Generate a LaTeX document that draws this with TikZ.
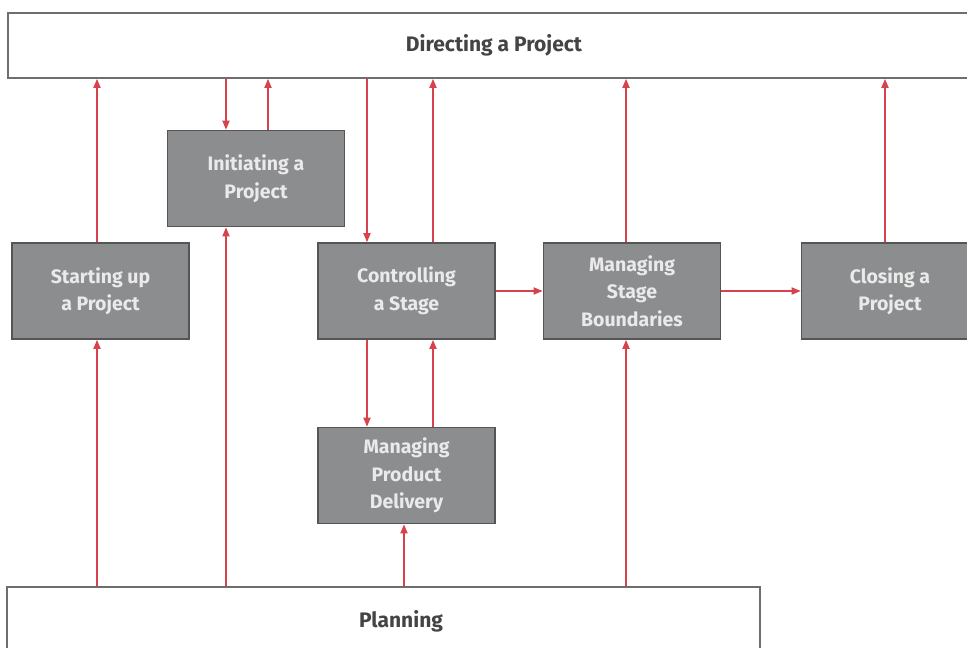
\documentclass[tikz,border=0pt]{standalone}
\usepackage{fontspec}
\setmainfont{Fira Sans}
\usetikzlibrary{arrows.meta}
\definecolor{boxgray}{HTML}{8C8D8F}
\definecolor{boxedge}{HTML}{555555}
\definecolor{redline}{HTML}{D6434D}
\definecolor{txtlight}{HTML}{EAEAEA}
\definecolor{txtdark}{HTML}{444444}
\tikzset{
  proc/.style={draw=boxedge, line width=1.6pt, fill=boxgray, text=txtlight,
    font=\bfseries\fontsize{19.5}{27.5}\selectfont, align=center,
    minimum width=177pt, minimum height=96pt, inner sep=0pt},
  wbox/.style={draw=boxedge!85, line width=1.6pt, fill=white, inner sep=0pt},
  wtext/.style={text=txtdark, font=\bfseries\fontsize{21}{24}\selectfont, inner sep=0pt},
  arr/.style={draw=redline, line width=1.7pt, -{Triangle[length=9pt,width=7pt]}},
}
\begin{document}
\begin{tikzpicture}[x=1pt,y=-1pt]
\useasboundingbox (0,0) rectangle (967,648);
% column coordinates
\coordinate (x97) at (97,0);
\coordinate (x226) at (226,0);
\coordinate (x268) at (268,0);
\coordinate (x367) at (367,0);
\coordinate (x404) at (404,0);
\coordinate (x433) at (433,0);
\coordinate (x626) at (626,0);
\coordinate (x885) at (885,0);
% boxes
\node (dir) [wbox, minimum width=974pt, minimum height=65pt] at (495,45.5) {};
\node (dirtext) [wtext] at (494,45) {Directing a Project};
\node (plan) [wbox, minimum width=753pt, minimum height=80pt] at (383.5,627) {};
\node (plantext) [wtext] at (401,621) {Planning};
\node (init) [proc] at (256,178.5) {Initiating a\\Project};
\node (start) [proc] at (100.5,291) {Starting up\\a Project};
\node (ctrl) [proc] at (406.5,291) {Controlling\\a Stage};
\node (msb) [proc] at (632,291) {Managing\\Stage\\Boundaries};
\node (close) [proc] at (890,291) {Closing a\\Project};
\node (mpd) [proc] at (406.5,475.5) {Managing\\Product\\Delivery};
% connectors
\draw[arr] (start.north -| x97) -- (dir.south -| x97);
\draw[arr] (plan.north -| x97) -- (start.south -| x97);
\draw[arr] (dir.south -| x226) -- (init.north -| x226);
\draw[arr] (init.north -| x268) -- (dir.south -| x268);
\draw[arr] (plan.north -| x226) -- (init.south -| x226);
\draw[arr] (dir.south -| x367) -- (ctrl.north -| x367);
\draw[arr] (ctrl.north -| x433) -- (dir.south -| x433);
\draw[arr] (ctrl.south -| x367) -- (mpd.north -| x367);
\draw[arr] (mpd.north -| x433) -- (ctrl.south -| x433);
\draw[arr] (plan.north -| x404) -- (mpd.south -| x404);
\draw[arr] (ctrl.east) -- (msb.west);
\draw[arr] (msb.east) -- (close.west);
\draw[arr] (msb.north -| x626) -- (dir.south -| x626);
\draw[arr] (plan.north -| x626) -- (msb.south -| x626);
\draw[arr] (close.north -| x885) -- (dir.south -| x885);
\end{tikzpicture}
\end{document}
